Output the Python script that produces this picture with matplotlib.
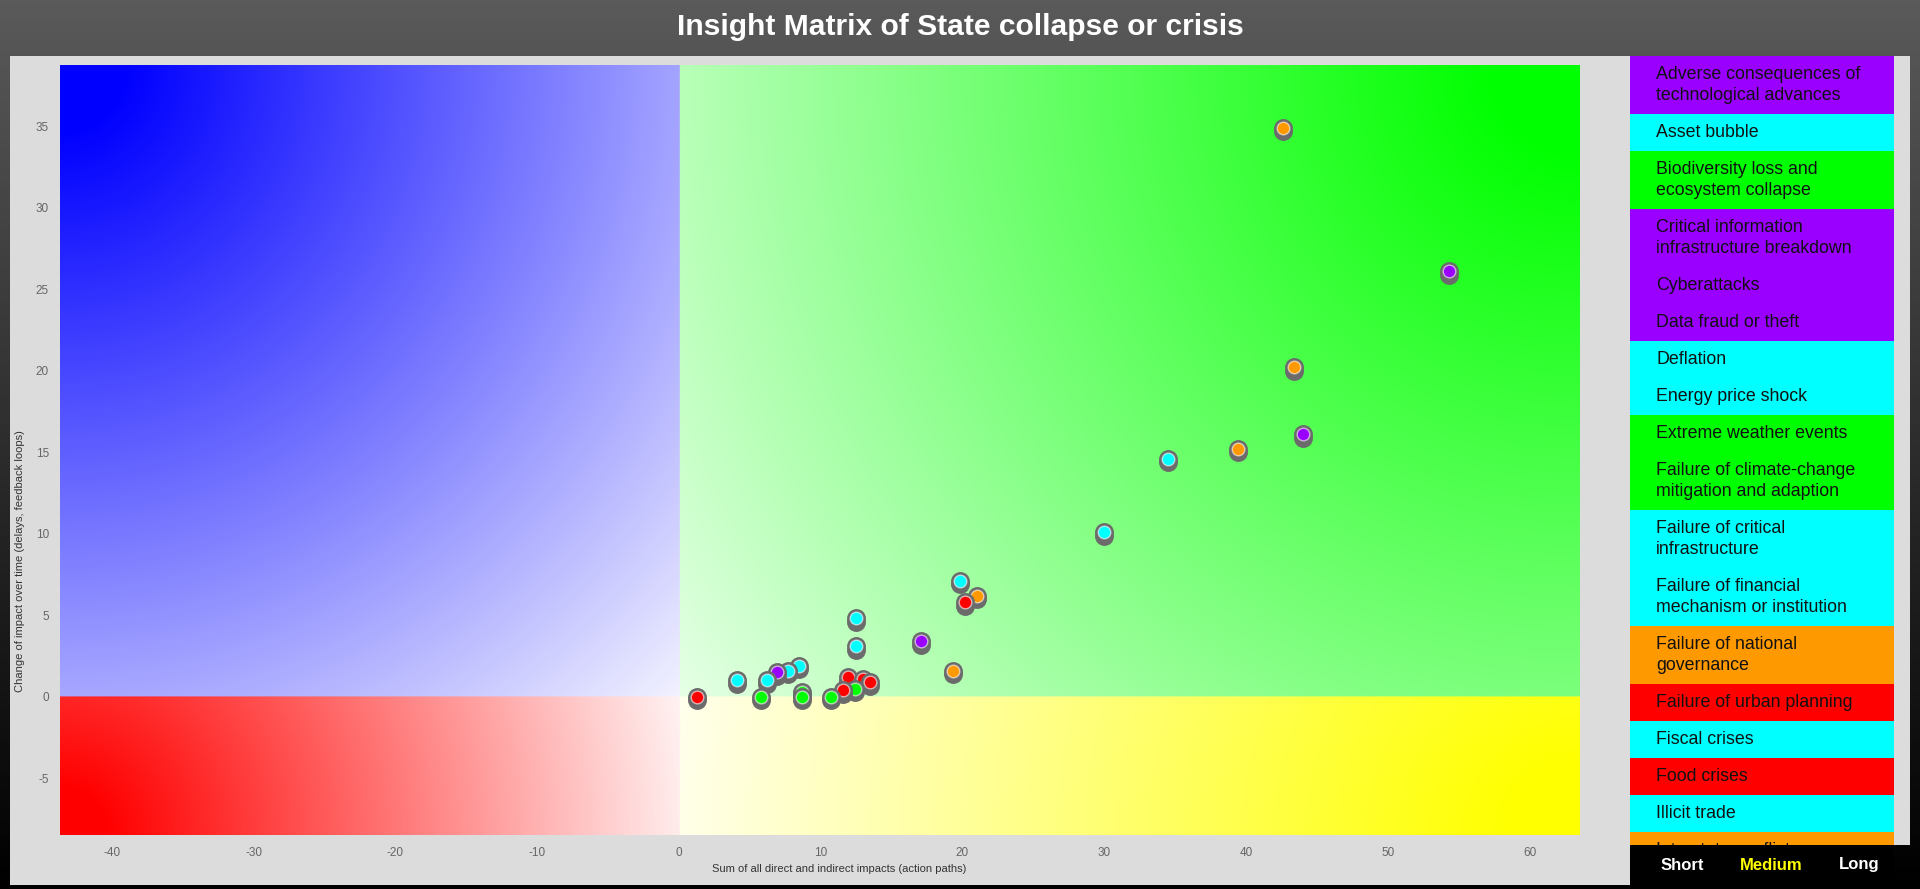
import numpy as np
import matplotlib.pyplot as plt
from matplotlib.patches import Rectangle
from matplotlib import transforms

plt.rcParams['font.family'] = ['Liberation Sans', 'DejaVu Sans']
plt.rcParams['axes.unicode_minus'] = False

W, H = 1920, 889

# points per colour group: x = sum of impacts, y = change over time
purple_x = [54.3, 44.0, 17.1, 6.9]
purple_y = [26.1, 16.1, 3.4, 1.5]
orange_x = [42.6, 43.4, 39.4, 21.0, 19.3]
orange_y = [34.9, 20.2, 15.2, 6.2, 1.6]
cyan_x = [34.5, 30.0, 19.8, 12.5, 12.5, 4.1, 6.2, 7.7, 8.5]
cyan_y = [14.6, 10.1, 7.1, 4.8, 3.1, 1.0, 1.0, 1.6, 1.9]
red_x = [20.2, 1.3, 11.6, 11.9, 13.0, 13.5]
red_y = [5.8, 0.0, 0.4, 1.2, 1.1, 0.9]
green_x = [5.8, 8.7, 8.7, 10.7, 12.4]
green_y = [0.0, 0.3, 0.0, 0.0, 0.5]

legend_labels = [
    'Adverse consequences of\ntechnological advances',
    'Asset bubble',
    'Biodiversity loss and\necosystem collapse',
    'Critical information\ninfrastructure breakdown',
    'Cyberattacks',
    'Data fraud or theft',
    'Deflation',
    'Energy price shock',
    'Extreme weather events',
    'Failure of climate-change\nmitigation and adaption',
    'Failure of critical\ninfrastructure',
    'Failure of financial\nmechanism or institution',
    'Failure of national\ngovernance',
    'Failure of urban planning',
    'Fiscal crises',
    'Food crises',
    'Illicit trade',
    'Interstate conflict',
]
legend_groups = ['purple', 'cyan', 'green', 'purple', 'purple', 'purple', 'cyan', 'cyan',
                 'green', 'green', 'cyan', 'cyan', 'orange', 'red', 'cyan', 'red', 'cyan', 'orange']

x_ticks = [-40, -30, -20, -10, 0, 10, 20, 30, 40, 50, 60]
y_ticks = [-5, 0, 5, 10, 15, 20, 25, 30, 35]
horizons = ['Short', 'Medium', 'Long']

colors = {'purple': '#9900ff', 'orange': '#ff9900', 'cyan': '#00ffff',
          'red': '#ff0000', 'green': '#00ff00'}

fig = plt.figure(figsize=(W / 100, H / 100), dpi=100)

# page background + panels, drawn in pixel coords
bg = fig.add_axes([0, 0, 1, 1], zorder=-10)
bg.set_xlim(0, W); bg.set_ylim(H, 0); bg.axis('off')
grad = np.linspace(0x5a / 255, 0.0, 256)[:, None] * np.ones((1, 2))
bg.imshow(np.dstack([grad, grad, grad]), extent=(0, W, H, 0), aspect='auto')
bg.add_patch(Rectangle((10, 56), 1900, 789, color='#dcdcdc', lw=0))
bg.add_patch(Rectangle((10, 845), 1620, 40, color='#dcdcdc', lw=0))
bg.add_patch(Rectangle((1630, 845), 264, 40, color='black', lw=0))
bg.text(960, 27, 'Insight Matrix of State collapse or crisis', color='white',
        fontsize=21.6, fontweight='bold', ha='center', va='center')
for lbl, xp, c in zip(horizons, [1682, 1771, 1859], ['white', '#ffff00', 'white']):
    bg.text(xp, 865, lbl, color=c, fontsize=12, fontweight='bold', ha='center', va='center')

# main matrix
x0, x1, y0, y1 = -43.65, 63.55, -8.48, 38.75
ax = fig.add_axes([60 / W, 1 - 835 / H, 1520 / W, 770 / H])
ax.set_xlim(x0, x1); ax.set_ylim(y0, y1)

# quadrant gradients: radial from the outer corner, fading to white at the origin
px = 1520 / (x1 - x0); py = 770 / (y1 - y0)
xs = np.linspace(x0, x1, 900); ys = np.linspace(y0, y1, 500)
X, Y = np.meshgrid(xs, ys)
img = np.ones(X.shape + (3,))
quads = [((X < 0) & (Y >= 0), x0, y1, (0, 0, 1), 1.05),
         ((X >= 0) & (Y >= 0), x1, y1, (0, 1, 0), 1.1),
         ((X < 0) & (Y < 0), x0, y0, (1, 0, 0), 1.05),
         ((X >= 0) & (Y < 0), x1, y0, (1, 1, 0), 1.07)]
for mask, fx, fy, col, rf in quads:
    r = np.hypot((X - fx) * px, (Y - fy) * py)
    R = rf * np.hypot(fx * px, fy * py)
    t = np.clip((1 - r / R) / 0.93, 0, 1)
    for k in range(3):
        img[..., k] = np.where(mask, 1 - t * (1 - col[k]), img[..., k])
ax.imshow(img, extent=(x0, x1, y0, y1), origin='lower', aspect='auto', zorder=0)

# markers: grey pedestal + coloured dot
shadow = transforms.offset_copy(ax.transData, fig=fig, x=0, y=-3.5, units='dots')
groups = [(purple_x, purple_y, 'purple'), (orange_x, orange_y, 'orange'),
          (cyan_x, cyan_y, 'cyan'), (red_x, red_y, 'red'), (green_x, green_y, 'green')]
pts = [(x, y, g) for gx, gy, g in groups for x, y in zip(gx, gy)]
pts.sort(key=lambda p: -p[1])
for i, (x, y, g) in enumerate(pts):
    z = 5 + i * 0.01
    ax.scatter([x], [y], s=185, color='#6b6b6b', lw=0, transform=shadow, zorder=z)
    ax.scatter([x], [y], s=185, color='#6b6b6b', lw=0, zorder=z + 0.001)
    ax.scatter([x], [y], s=82, color=colors[g], edgecolors=(1, 1, 1, 0.6),
               linewidths=1, zorder=z + 0.002)

ax.set_xticks(x_ticks); ax.set_yticks(y_ticks)
ax.tick_params(length=0, labelsize=8.5, labelcolor='#666666')
ax.tick_params(axis='x', pad=9)
ax.tick_params(axis='y', pad=8)
for s in ax.spines.values():
    s.set_visible(False)

fig.text(839 / W, 1 - 869 / H, 'Sum of all direct and indirect impacts (action paths)',
         fontsize=8, color='#333333', ha='center', va='center')
fig.text(20 / W, 1 - 561 / H, 'Change of impact over time (delays, feedback loops)',
         fontsize=8, color='#333333', ha='center', va='center', rotation=90)

# legend list
lg = fig.add_axes([1630 / W, 1 - 845 / H, 264 / W, 789 / H])
lg.set_xlim(0, 264); lg.set_ylim(789, 0); lg.axis('off')
top = 0
for lbl, g in zip(legend_labels, legend_groups):
    h = 37 + 21 * lbl.count('\n')
    lg.add_patch(Rectangle((0, top), 264, h, color=colors[g], lw=0, clip_on=True))
    lg.text(26, top + h / 2, lbl, fontsize=12.8, color='#111111', va='center', ha='left',
            linespacing=1.3, clip_on=True)
    top += h

fig.savefig('out.png', dpi=100)
